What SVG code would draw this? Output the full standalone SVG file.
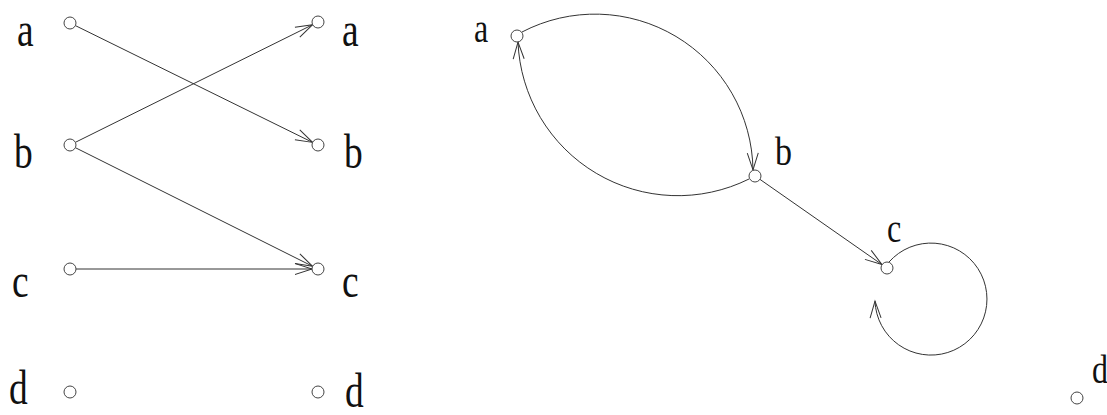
<svg xmlns="http://www.w3.org/2000/svg" width="1107" height="415" viewBox="0 0 1107 415">
<style>
.n{fill:#fff;stroke:#444;stroke-width:1}
.e{fill:none;stroke:#333;stroke-width:1}
.L{font-family:"Liberation Serif","Times New Roman",serif;font-size:48px;fill:#111}
.S{font-family:"Liberation Serif","Times New Roman",serif;font-size:40px;fill:#111}
</style>
<defs>
<marker id="ar" viewBox="-20 -10 24 20" refX="0" refY="0" markerWidth="24" markerHeight="20" markerUnits="userSpaceOnUse" orient="auto" overflow="visible">
<path d="M-17,-5.5 L0,0 L-17,5.5" fill="none" stroke="#333" stroke-width="1"/>
</marker>
</defs>
<rect width="1107" height="415" fill="#fff"/>
<g id="connectors">
<line class="e" x1="75.4" y1="25.6" x2="312.6" y2="142.4" marker-end="url(#ar)"/>
<line class="e" x1="75.4" y1="142.3" x2="312.6" y2="24.7" marker-end="url(#ar)"/>
<line class="e" x1="75.4" y1="147.7" x2="312.6" y2="266.3" marker-end="url(#ar)"/>
<line class="e" x1="76" y1="269" x2="312" y2="269" marker-end="url(#ar)"/>
<path class="e" d="M522,32 A158,158 0 0,1 753,170" marker-end="url(#ar)"/>
<path class="e" d="M749,179 A160,160 0 0,1 518,42" marker-end="url(#ar)"/>
<line class="e" x1="760" y1="179.4" x2="882" y2="264.6" marker-end="url(#ar)"/>
<path class="e" d="M889,262 A56,56 0 1,1 875,301" marker-end="url(#ar)"/>
</g>
<g id="L-a"><circle class="n" cx="70" cy="23" r="6"/><text class="L" transform="translate(17,46) scale(0.78,1)">a</text></g>
<g id="L-b"><circle class="n" cx="70" cy="145" r="6"/><text class="L" transform="translate(14,168) scale(0.78,1)">b</text></g>
<g id="L-c"><circle class="n" cx="70" cy="269" r="6"/><text class="L" transform="translate(12,297) scale(0.78,1)">c</text></g>
<g id="L-d"><circle class="n" cx="70" cy="392" r="6"/><text class="L" transform="translate(9,404) scale(0.78,1)">d</text></g>
<g id="R-a"><circle class="n" cx="318" cy="22" r="6"/><text class="L" transform="translate(342,46) scale(0.78,1)">a</text></g>
<g id="R-b"><circle class="n" cx="318" cy="145" r="6"/><text class="L" transform="translate(344,168) scale(0.78,1)">b</text></g>
<g id="R-c"><circle class="n" cx="318" cy="269" r="6"/><text class="L" transform="translate(342,297) scale(0.78,1)">c</text></g>
<g id="R-d"><circle class="n" cx="318" cy="392" r="6"/><text class="L" transform="translate(345,407) scale(0.78,1)">d</text></g>
<g id="G-a"><circle class="n" cx="517" cy="36" r="6"/><text class="S" transform="translate(474,42) scale(0.8,1)">a</text></g>
<g id="G-b"><circle class="n" cx="755" cy="176" r="6"/><text class="S" transform="translate(775,165) scale(0.85,1)">b</text></g>
<g id="G-c"><circle class="n" cx="887" cy="268" r="6"/><text class="S" transform="translate(887,242) scale(0.8,1)">c</text></g>
<g id="G-d"><circle class="n" cx="1077" cy="398" r="6"/><text class="S" transform="translate(1092,383) scale(0.8,1)">d</text></g>
</svg>
